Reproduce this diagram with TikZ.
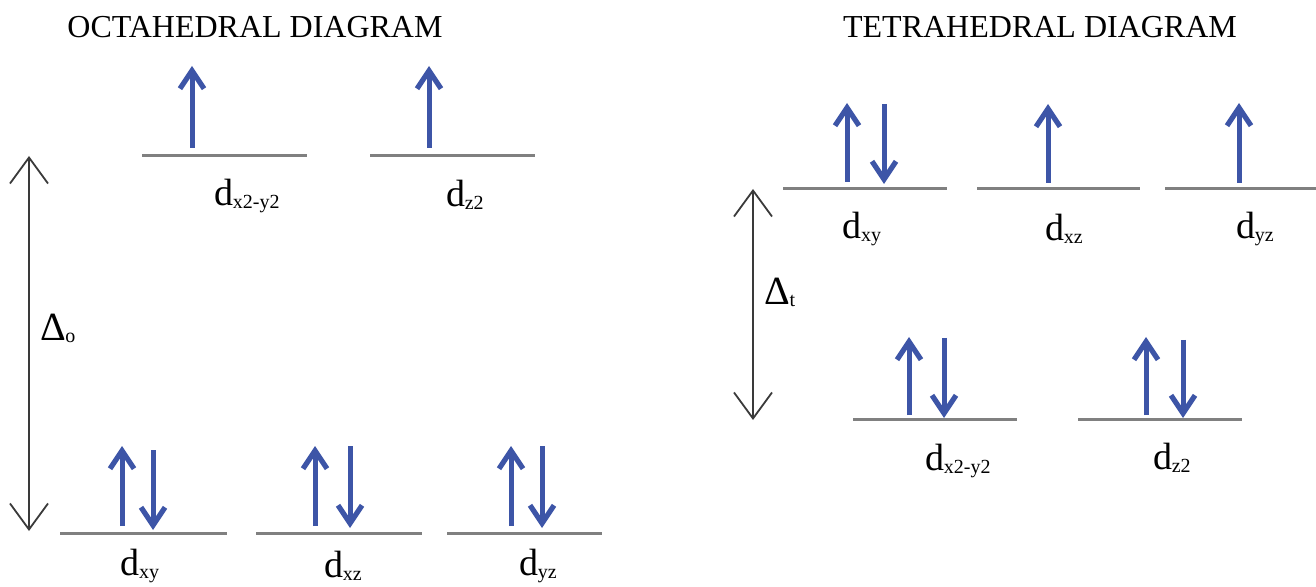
\documentclass[tikz,border=0pt]{standalone}
\usepackage{fontspec}
\setmainfont{Liberation Serif}
\usetikzlibrary{arrows.meta}
\definecolor{eblue}{HTML}{3D55A7}
\definecolor{lvgray}{HTML}{808080}
\definecolor{dgray}{HTML}{3A3A3A}
\newcommand{\orb}[1]{{\fontsize{19}{19}\selectfont d}\kern-0.3pt\raisebox{-1.5pt}{\fontsize{10}{10}\selectfont #1}}
\newcommand{\splitlab}[1]{{\fontsize{20}{20}\selectfont\char"0394}\kern-0.5pt\raisebox{-1pt}{\fontsize{10}{10}\selectfont #1}}
\begin{document}
\begin{tikzpicture}[x=0.5pt,y=-0.5pt,
  level/.style={lvgray,line width=1.5pt},
  electron/.style={eblue,line width=2.5pt,-{Straight Barb[length=9pt,width=12pt,line width=2.6pt]}},
  gap/.style={dgray,line width=0.9pt,{Straight Barb[length=13pt,width=19pt]}-{Straight Barb[length=13pt,width=19pt]}},
  title/.style={font=\fontsize{16}{16}\selectfont,inner sep=0pt},
  lab/.style={inner sep=0pt}]
\useasboundingbox (0,0) rectangle (1316,587);
% ---------------- Octahedral ----------------
\node[title] (ttlO) at (255,27) {OCTAHEDRAL DIAGRAM};
% levels
\coordinate (eg1w) at (142,156); \coordinate (eg1e) at (307,156);
\coordinate (eg2w) at (370,156); \coordinate (eg2e) at (535,156);
\coordinate (t1w) at (60,533);  \coordinate (t1e) at (227,533);
\coordinate (t2w) at (256,533); \coordinate (t2e) at (422,533);
\coordinate (t3w) at (447,533); \coordinate (t3e) at (602,533);
\foreach \l in {eg1,eg2,t1,t2,t3} \draw[level] (\l w) -- (\l e);
% electrons
\draw[electron] (192,148) -- (192,66);
\draw[electron] (429,148) -- (429,66);
\draw[electron] (122,526) -- (122,446);
\draw[electron] (153,450) -- (153,530);
\draw[electron] (315,526) -- (315,446);
\draw[electron] (350,446) -- (350,528);
\draw[electron] (511,526) -- (511,446);
\draw[electron] (542,446) -- (542,528);
% labels
\node[lab] (leg1) at (247,196) {\orb{x2-y2}};
\node[lab] (leg2) at (465,195) {\orb{z2}};
\node[lab] (lt1) at (140,566) {\orb{xy}};
\node[lab] (lt2) at (343,566) {\orb{xz}};
\node[lab] (lt3) at (538,566) {\orb{yz}};
% splitting
\coordinate (gOtop) at (29,156); \coordinate (gObot) at (29,531);
\draw[gap] (gOtop) -- (gObot);
\node[lab] (dO) at (58,328) {\splitlab{o}};
% ---------------- Tetrahedral ----------------
\node[title] (ttlT) at (1040,27) {TETRAHEDRAL DIAGRAM};
\coordinate (T1w) at (783,189);  \coordinate (T1e) at (947,189);
\coordinate (T2w) at (977,189);  \coordinate (T2e) at (1140,189);
\coordinate (T3w) at (1165,189); \coordinate (T3e) at (1316,189);
\coordinate (E1w) at (853,419);  \coordinate (E1e) at (1017,419);
\coordinate (E2w) at (1078,419); \coordinate (E2e) at (1242,419);
\foreach \l in {T1,T2,T3,E1,E2} \draw[level] (\l w) -- (\l e);
\draw[electron] (847,182) -- (847,103);
\draw[electron] (884,104) -- (884,184);
\draw[electron] (1048,183) -- (1048,104);
\draw[electron] (1239,183) -- (1239,103);
\draw[electron] (909,415) -- (909,337);
\draw[electron] (944,338) -- (944,418);
\draw[electron] (1146,415) -- (1146,337);
\draw[electron] (1183,340) -- (1183,418);
\node[lab] (lT1) at (862,229) {\orb{xy}};
\node[lab] (lT2) at (1064,229) {\orb{xz}};
\node[lab] (lT3) at (1255,229) {\orb{yz}};
\node[lab] (lE1) at (958,461) {\orb{x2-y2}};
\node[lab] (lE2) at (1172,458) {\orb{z2}};
\coordinate (gTtop) at (753,189); \coordinate (gTbot) at (753,420);
\draw[gap] (gTtop) -- (gTbot);
\node[lab] (dT) at (780,292) {\splitlab{t}};
\end{tikzpicture}
\end{document}
